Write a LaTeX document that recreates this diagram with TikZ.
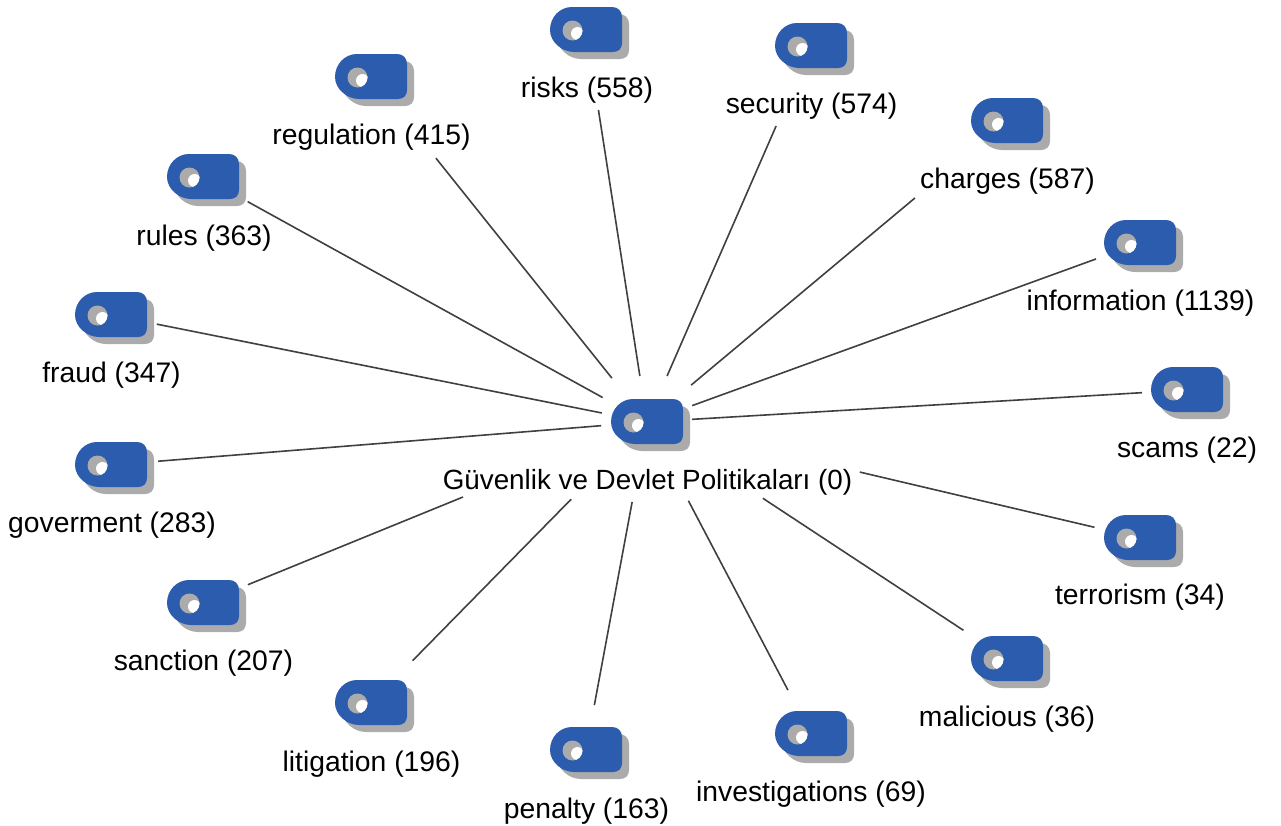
\documentclass[tikz,border=0pt]{standalone}
\usepackage{fontspec}
\setmainfont{Liberation Sans}
\definecolor{bodyblue}{HTML}{2B5CAD}
\definecolor{shadowgray}{HTML}{ABABAB}
\definecolor{linkgray}{HTML}{404040}
\tikzset{
  iconanchor/.style={inner sep=0pt,minimum size=0pt,outer sep=0pt},
  iconlabel/.style={anchor=base,inner sep=0pt,text=black,font=\fontsize{28.3}{28.3}\selectfont},
  link/.style={draw=linkgray,line width=1.6pt},
}
\newcommand{\tagshape}{(22,0) -- (62,0) .. controls (68,0) and (72,4) .. (72,10) -- (72,36) .. controls (72,41.5) and (68.5,45) .. (63,45) -- (24,45) .. controls (12,45) and (0,35) .. (0,23) .. controls (0,10) and (10,0) .. (22,0) -- cycle}
% name, centre x, centre y, label, label x, baseline y
\newcommand{\tagicon}[6]{%
  \begin{scope}[shift={(#2-36,#3-23)}]
    \fill[shadowgray,shift={(7,7)}] \tagshape;
    \fill[bodyblue] \tagshape;
    \fill[shadowgray] (22.5,23.5) circle (10);
    \begin{scope}
      \clip (22.5,23.5) circle (10);
      \fill[white] (27.5,26.5) circle (6.5);
    \end{scope}
  \end{scope}
  \node[iconanchor] (#1) at (#2,#3) {};
  \node[iconlabel] (#1-label) at (#5,#6) {#4};
}
\begin{document}
\begin{tikzpicture}[x=1pt,y=-1pt]
\useasboundingbox (0,0) rectangle (1281,825);
\fill[white] (0,0) rectangle (1281,825);
\tagicon{hub}{647}{422}{\fontsize{27.8}{27.8}\selectfont Güvenlik ve Devlet Politikaları (0)}{647.5}{489}
\tagicon{risks}{586}{30}{risks (558)}{587}{97}
\tagicon{security}{811}{46}{security (574)}{811.5}{113}
\tagicon{charges}{1007}{121}{charges (587)}{1007.5}{188}
\tagicon{information}{1140}{243}{information (1139)}{1140.5}{310}
\tagicon{scams}{1187}{390}{scams (22)}{1187}{457}
\tagicon{terrorism}{1140}{538}{terrorism (34)}{1140}{604}
\tagicon{malicious}{1007}{659}{malicious (36)}{1007}{726}
\tagicon{investigations}{811}{734}{investigations (69)}{811}{801}
\tagicon{penalty}{586}{750}{penalty (163)}{586.5}{818}
\tagicon{litigation}{371}{703}{litigation (196)}{371.5}{771}
\tagicon{sanction}{203}{603}{sanction (207)}{203.5}{670}
\tagicon{goverment}{111}{465}{goverment (283)}{112}{532}
\tagicon{fraud}{111}{315}{fraud (347)}{111.5}{382}
\tagicon{rules}{203}{177}{rules (363)}{204}{245}
\tagicon{regulation}{371}{77}{regulation (415)}{371.5}{144}
\foreach \target/\near/\far in {
  risks/46.5/81, security/50.2/87.3, charges/57.5/120, information/48.1/46.8,
  scams/45.1/45.1, terrorism/218.6/46.8, malicious/138.7/52.2, investigations/89/49.6,
  penalty/81.4/45.7, litigation/108.2/59.4, sanction/198.7/48.5, goverment/46.1/47.2,
  fraud/46.1/46.7, rules/50.6/51, regulation/56.2/103.9}{
  \draw[link,shorten <=\near pt,shorten >=\far pt] (hub.center) -- (\target.center);
}
\end{tikzpicture}
\end{document}
